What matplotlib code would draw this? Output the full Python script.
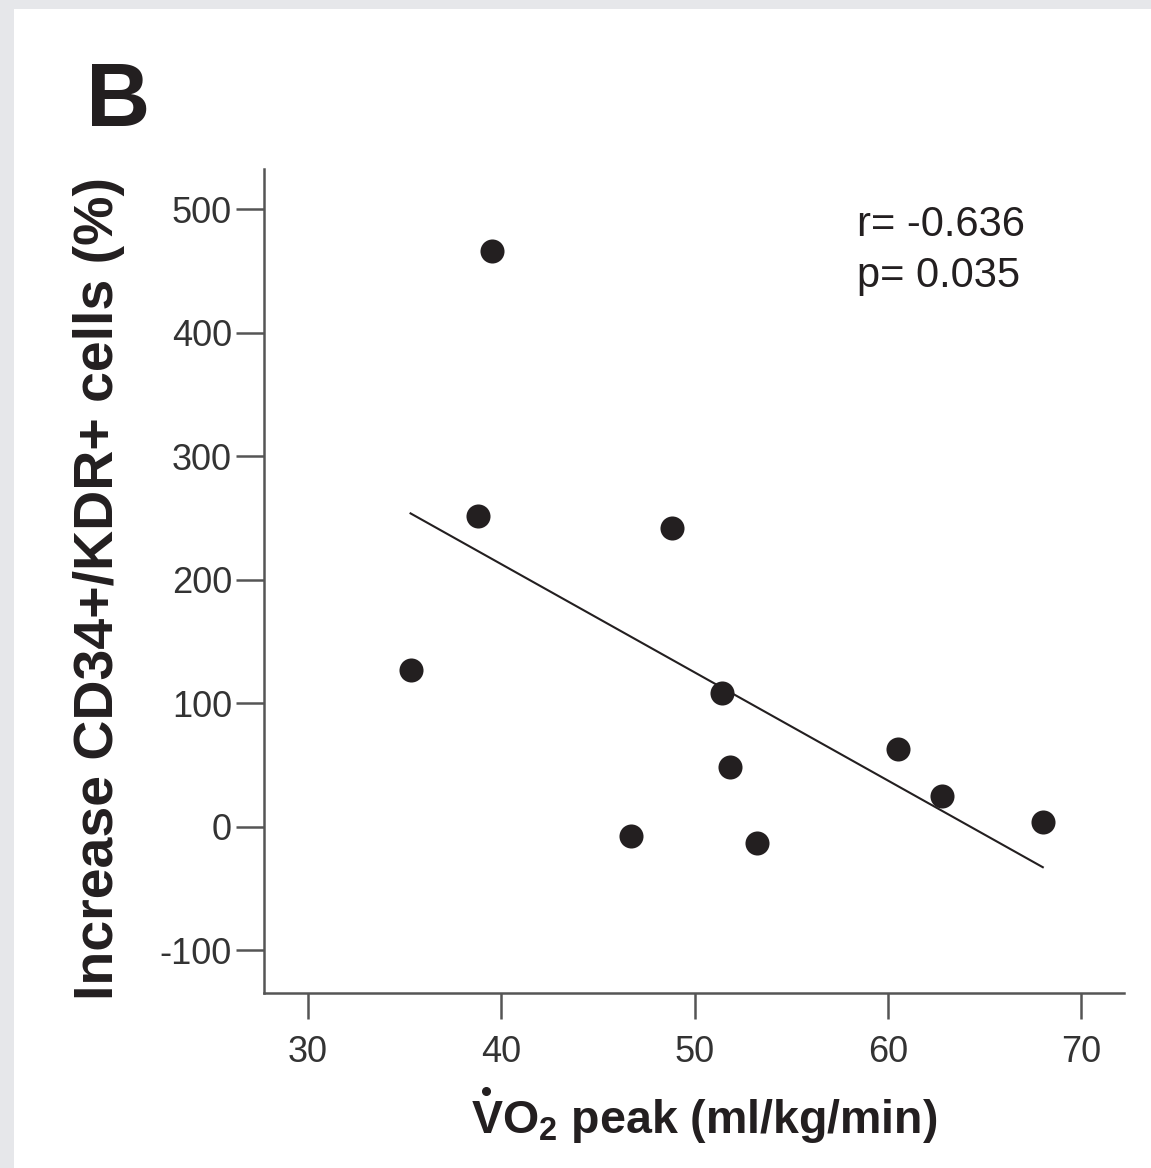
import numpy as np
import matplotlib
matplotlib.use("Agg")
import matplotlib.pyplot as plt
from matplotlib.lines import Line2D

plt.rcParams['font.family'] = ['Liberation Sans', 'DejaVu Sans']
plt.rcParams['mathtext.fontset'] = 'custom'
plt.rcParams['mathtext.rm'] = 'Liberation Sans'
plt.rcParams['mathtext.bf'] = 'Liberation Sans:bold'

# VO2 peak (ml/kg/min) and increase of CD34+/KDR+ cells (%)
vo2_peak = [39.5, 38.8, 35.3, 48.8, 51.4, 51.8, 46.7, 53.2, 60.5, 62.8, 68.0]
cd34_increase = [466, 252, 127, 242, 108, 48, -8, -13, 63, 25, 4]

x_ticks = [30, 40, 50, 60, 70]
y_ticks = [-100, 0, 100, 200, 300, 400, 500]
r_text = "r= -0.636"
p_text = "p= 0.035"

W, H = 1151, 1168
fig = plt.figure(figsize=(W / 100, H / 100), dpi=100)
fig.patch.set_facecolor('#e6e7ea')

# white panel behind everything
fig.patches.append(plt.Rectangle((14 / W, 0), 1, 1 - 9 / H, transform=fig.transFigure,
                                 facecolor='white', edgecolor='none', zorder=-10))

ax = fig.add_axes([264 / W, 1 - 993 / H, (1124 - 264) / W, (993 - 169) / H])
ax.set_facecolor('none')

ink = '#231f20'
ax.scatter(vo2_peak, cd34_increase, s=300, color=ink, zorder=3, linewidths=0)

# least-squares regression line over the data range
xs = np.array(vo2_peak)
ys = np.array(cd34_increase)
slope, intercept = np.polyfit(xs, ys, 1)
xl = np.array([xs.min(), xs.max()])
ax.plot(xl, slope * xl + intercept, color=ink, lw=1.5, zorder=2)

ax.set_xlim(27.72, 72.2)
ax.set_ylim(-134.8, 532.7)
ax.set_xticks(x_ticks)
ax.set_yticks(y_ticks)
ax.set_xticklabels([str(t) for t in x_ticks])
ax.set_yticklabels([str(t) for t in y_ticks])

for s in ['top', 'right']:
    ax.spines[s].set_visible(False)
for s in ['left', 'bottom']:
    ax.spines[s].set_color('#555555')
    ax.spines[s].set_linewidth(1.8)

ax.tick_params(axis='y', length=20, width=1.8, color='#555555', pad=3,
               labelsize=26, labelcolor='#333333')
ax.tick_params(axis='x', length=19, width=1.8, color='#555555', pad=11,
               labelsize=26, labelcolor='#333333')

fig.text(857 / W, 1 - 236 / H, r_text, fontsize=30, color=ink, ha='left', va='baseline')
fig.text(857 / W, 1 - 287 / H, p_text, fontsize=30, color=ink, ha='left', va='baseline')

fig.text(86 / W, 1 - 126 / H, 'B', fontsize=64, fontweight='bold', color=ink,
         ha='left', va='baseline')

fig.text(99 / W, 1 - 588 / H, 'Increase CD34+/KDR+ cells (%)', rotation=90,
         fontsize=40, fontweight='bold', color=ink, ha='center', va='center')

xlabel = fig.text(704 / W, 1 - 1133 / H, r'VO$_\mathbf{2}$ peak (ml/kg/min)',
                  fontsize=33.5, fontweight='bold', color=ink, ha='center', va='baseline')

# dot over the V (rate symbol)
fig.canvas.draw()
bb = xlabel.get_window_extent()
em = 33.5 * 100 / 72
dot_x = bb.x0 + 0.333 * em
dot_y = bb.y1 + 0.12 * em
fig.add_artist(Line2D([dot_x / W], [dot_y / H], transform=fig.transFigure,
                      marker='o', markersize=5.5, color=ink, linestyle='none'))

fig.savefig('out.png', dpi=100, facecolor=fig.get_facecolor())
